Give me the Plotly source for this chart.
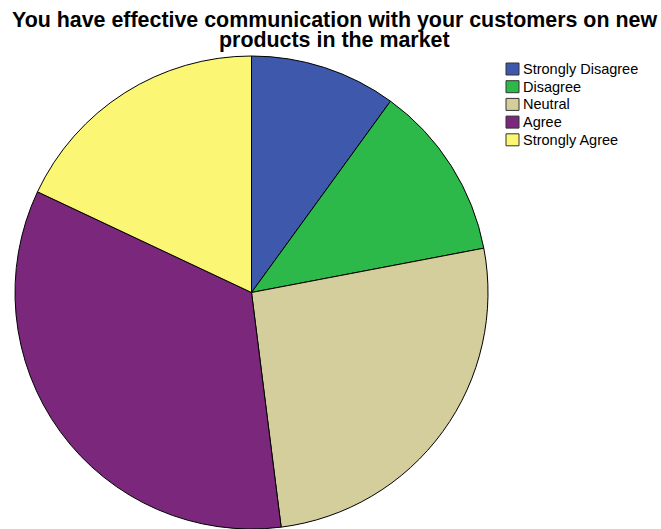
import plotly.graph_objects as go

# Survey responses
categories = ["Strongly Disagree", "Disagree", "Neutral", "Agree", "Strongly Agree"]
counts = [5, 6, 13, 17, 9]
colors = ["#3E58AC", "#2DB84A", "#D3CE9B", "#7B287C", "#FBF673"]
title_lines = [
    "You have effective communication with your customers on new",
    "products in the market",
]

W, H = 661, 529
FONT = "Liberation Sans, Arial, sans-serif"

fig = go.Figure(
    go.Pie(
        labels=categories,
        values=counts,
        sort=False,
        direction="clockwise",
        rotation=0,
        textinfo="none",
        hoverinfo="label+value+percent",
        showlegend=False,
        marker=dict(colors=colors, line=dict(color="#000000", width=1)),
        domain=dict(x=[15 / W, 488 / W], y=[1 - 529 / H, 1 - 56 / H]),
    )
)

# Title, two tightly spaced lines
for i, line in enumerate(title_lines):
    fig.add_annotation(
        text=f"<b>{line}</b>",
        xref="paper", yref="paper",
        x=334 / W, xanchor="center",
        y=1 - (6 + 20 * i) / H, yanchor="top",
        showarrow=False,
        font=dict(size=21.4, family=FONT, color="#000000"),
    )

# Legend: swatch boxes with labels
box_x0, box_x1, box_h = 506, 519, 12
first_center, step = 69, 17.7
for i, (name, col) in enumerate(zip(categories, colors)):
    cy = first_center + step * i
    fig.add_shape(
        type="rect", xref="paper", yref="paper",
        x0=box_x0 / W, x1=box_x1 / W,
        y0=1 - (cy - box_h / 2) / H, y1=1 - (cy + box_h / 2) / H,
        fillcolor=col, line=dict(color="#333333", width=1),
    )
    fig.add_annotation(
        text=name, xref="paper", yref="paper",
        x=521 / W, xanchor="left",
        y=1 - cy / H, yanchor="middle",
        showarrow=False,
        font=dict(size=14.5, family=FONT, color="#000000"),
    )

fig.update_layout(
    width=W,
    height=H,
    margin=dict(l=0, r=0, t=0, b=0),
    paper_bgcolor="white",
    plot_bgcolor="white",
    font=dict(family=FONT, color="#000000"),
)

fig.write_html("out.html")
